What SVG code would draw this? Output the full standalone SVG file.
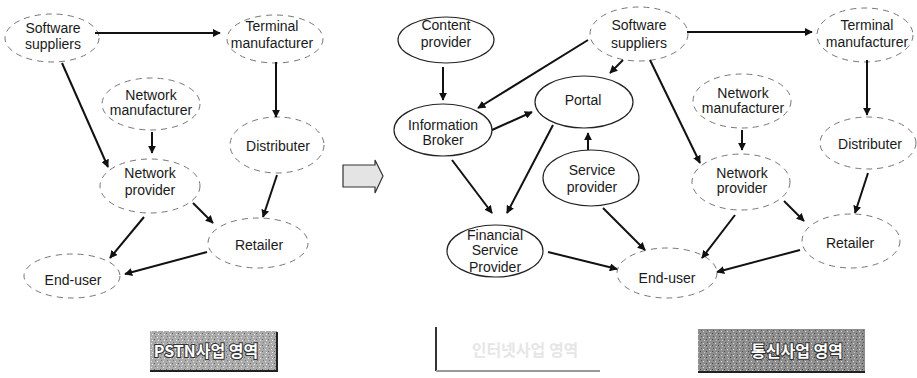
<svg xmlns="http://www.w3.org/2000/svg" width="917" height="378" viewBox="0 0 917 378">
<defs>
<marker id="ah" viewBox="0 0 10 10" refX="9" refY="5" markerWidth="8" markerHeight="8" markerUnits="userSpaceOnUse" orient="auto"><path d="M0,0 L10,5 L0,10 z" fill="#111"/></marker>
<pattern id="noise" width="6" height="6" patternUnits="userSpaceOnUse"><rect width="6" height="6" fill="#ababab"/><rect x="1" y="1" width="1" height="1" fill="#e6e6e6"/><rect x="4" y="3" width="1" height="1" fill="#666"/><rect x="2" y="4" width="1" height="1" fill="#eee"/><rect x="5" y="0" width="1" height="1" fill="#777"/></pattern>
<pattern id="noise2" width="6" height="6" patternUnits="userSpaceOnUse"><rect width="6" height="6" fill="#8e8e8e"/><rect x="1" y="1" width="1" height="1" fill="#ddd"/><rect x="4" y="3" width="1" height="1" fill="#444"/><rect x="2" y="4" width="1" height="1" fill="#ccc"/><rect x="5" y="0" width="1" height="1" fill="#555"/></pattern>
</defs>
<style>
.dn{fill:none;stroke:#777;stroke-width:1;stroke-dasharray:6 5}
.sn{fill:none;stroke:#222;stroke-width:1.2}
.t{font-family:"Liberation Sans",Arial,sans-serif;font-size:14px;fill:#1a1a1a;text-anchor:middle}
.c line{stroke:#111;stroke-width:2;marker-end:url(#ah)}
.k{font-family:"Noto Sans CJK KR","Liberation Sans",sans-serif;font-size:16px;font-weight:bold;text-anchor:middle}
</style>
<rect width="917" height="378" fill="#fff"/>

<!-- Left diagram -->
<g id="L-software"><ellipse class="dn" cx="52" cy="38" rx="47" ry="24"/><text class="t" x="53" y="33">Software</text><text class="t" x="53" y="49">suppliers</text></g>
<g id="L-terminal"><ellipse class="dn" cx="275" cy="39" rx="48" ry="24"/><text class="t" x="272" y="31">Terminal</text><text class="t" x="272" y="48">manufacturer</text></g>
<g id="L-netman"><ellipse class="dn" cx="151" cy="104" rx="49" ry="26"/><text class="t" x="151" y="100">Network</text><text class="t" x="151" y="115">manufacturer</text></g>
<g id="L-distributer"><ellipse class="dn" cx="277" cy="145" rx="47" ry="28"/><text class="t" x="278" y="151">Distributer</text></g>
<g id="L-netprov"><ellipse class="dn" cx="150" cy="186" rx="50" ry="27"/><text class="t" x="150" y="178">Network</text><text class="t" x="150" y="195">provider</text></g>
<g id="L-retailer"><ellipse class="dn" cx="258" cy="243" rx="50" ry="25"/><text class="t" x="259" y="250">Retailer</text></g>
<g id="L-enduser"><ellipse class="dn" cx="72" cy="276" rx="48" ry="22"/><text class="t" x="73" y="285">End-user</text></g>

<!-- Middle diagram -->
<g id="arrow-shift"><path d="M343,165 L375,165 L375,160 L383,176 L375,193 L375,187 L343,187 z" fill="#e4e4e4" stroke="#333" stroke-width="1.2"/></g>
<g id="M-content"><ellipse class="sn" cx="446" cy="40" rx="48" ry="23"/><text class="t" x="446" y="30">Content</text><text class="t" x="446" y="47">provider</text></g>
<g id="M-broker"><ellipse class="sn" cx="443" cy="130" rx="49" ry="26"/><text class="t" x="443" y="130">Information</text><text class="t" x="443" y="145">Broker</text></g>
<g id="M-portal"><ellipse class="sn" cx="584" cy="102" rx="49" ry="26"/><text class="t" x="583" y="105">Portal</text></g>
<g id="M-service"><ellipse class="sn" cx="591" cy="178" rx="48" ry="28"/><text class="t" x="592" y="175">Service</text><text class="t" x="592" y="192">provider</text></g>
<g id="M-financial"><ellipse class="sn" cx="495" cy="251" rx="48" ry="26"/><text class="t" x="495" y="240">Financial</text><text class="t" x="495" y="255">Service</text><text class="t" x="495" y="272">Provider</text></g>

<!-- Right diagram -->
<g id="R-software"><ellipse class="dn" cx="639" cy="34" rx="49" ry="27"/><text class="t" x="639" y="30">Software</text><text class="t" x="639" y="48">suppliers</text></g>
<g id="R-terminal"><ellipse class="dn" cx="865" cy="35" rx="48" ry="27"/><text class="t" x="867" y="30">Terminal</text><text class="t" x="867" y="47">manufacturer</text></g>
<g id="R-netman"><ellipse class="dn" cx="742" cy="101" rx="49" ry="27"/><text class="t" x="743" y="98">Network</text><text class="t" x="743" y="113">manufacturer</text></g>
<g id="R-distributer"><ellipse class="dn" cx="868" cy="143" rx="48" ry="26"/><text class="t" x="870" y="149">Distributer</text></g>
<g id="R-netprov"><ellipse class="dn" cx="741" cy="182" rx="49" ry="28"/><text class="t" x="742" y="178">Network</text><text class="t" x="742" y="193">provider</text></g>
<g id="R-retailer"><ellipse class="dn" cx="851" cy="241" rx="49" ry="27"/><text class="t" x="850" y="248">Retailer</text></g>
<g id="R-enduser"><ellipse class="dn" cx="667" cy="273" rx="50" ry="25"/><text class="t" x="667" y="283">End-user</text></g>

<g id="connectors" class="c">
<line x1="95" y1="33" x2="220" y2="33"/>
<line x1="62" y1="63" x2="108" y2="167"/>
<line x1="152" y1="132" x2="152" y2="153"/>
<line x1="276" y1="62" x2="276" y2="117"/>
<line x1="277" y1="175" x2="263" y2="217"/>
<line x1="193" y1="203" x2="213" y2="223"/>
<line x1="144" y1="217" x2="110" y2="258"/>
<line x1="207" y1="252" x2="125" y2="274"/>

<line x1="443" y1="67" x2="443" y2="100"/>
<line x1="588" y1="40" x2="478" y2="108"/>
<line x1="623" y1="60" x2="610" y2="73"/>
<line x1="492" y1="130" x2="532" y2="112"/>
<line x1="553" y1="125" x2="507" y2="213"/>
<line x1="452" y1="160" x2="492" y2="213"/>
<line x1="588" y1="150" x2="588" y2="133"/>
<line x1="603" y1="208" x2="645" y2="250"/>
<line x1="548" y1="252" x2="617" y2="269"/>

<line x1="650" y1="60" x2="700" y2="163"/>
<line x1="687" y1="32" x2="812" y2="32"/>
<line x1="742" y1="130" x2="742" y2="150"/>
<line x1="867" y1="60" x2="867" y2="115"/>
<line x1="868" y1="173" x2="855" y2="213"/>
<line x1="784" y1="201" x2="804" y2="221"/>
<line x1="735" y1="215" x2="702" y2="258"/>
<line x1="800" y1="250" x2="717" y2="272"/>
</g>

<!-- Bottom labels -->
<g id="label-pstn"><rect x="150" y="331" width="127" height="40" fill="url(#noise)"/><path d="M277,332 L277,371 L150,371" fill="none" stroke="#222" stroke-width="2"/><text class="k" x="206" y="357" fill="#fff" stroke="#333" stroke-width="2" paint-order="stroke">PSTN사업 영역</text></g>
<g id="label-internet"><rect x="435" y="327" width="165" height="44" fill="#fff"/><line x1="436" y1="327" x2="436" y2="371" stroke="#333" stroke-width="2"/><line x1="436" y1="371" x2="600" y2="371" stroke="#999" stroke-width="2"/><text class="k" x="525" y="356" fill="#e6e6e6">인터넷사업 영역</text></g>
<g id="label-telecom"><rect x="698" y="329" width="167" height="43" fill="url(#noise2)"/><line x1="698" y1="372" x2="865" y2="372" stroke="#222" stroke-width="2"/><text class="k" x="797" y="357" fill="#fff" stroke="#333" stroke-width="2" paint-order="stroke">통신사업 영역</text></g>
</svg>
